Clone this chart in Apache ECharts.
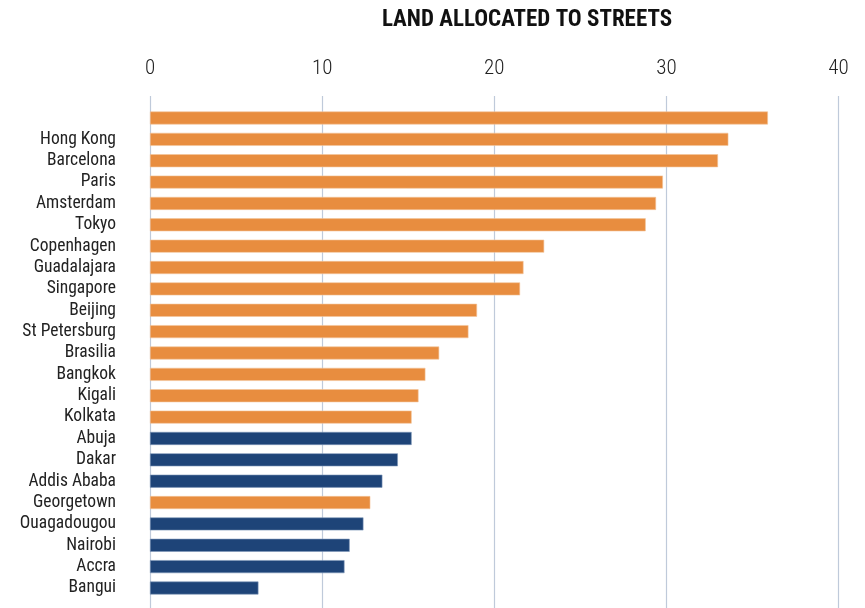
<!DOCTYPE html>
<html>
<head>
<meta charset="utf-8">
<script src="https://cdn.jsdelivr.net/npm/echarts@6/dist/echarts.min.js"></script>
<style>
  html, body { margin: 0; padding: 0; background: #ffffff; }
  #chart { width: 865px; height: 608px; }
</style>
</head>
<body>
<div id="chart"></div>
<script>
// ---- data ----
var title = 'LAND ALLOCATED TO STREETS';
var cities = ['', 'Hong Kong', 'Barcelona', 'Paris', 'Amsterdam', 'Tokyo', 'Copenhagen',
  'Guadalajara', 'Singapore', 'Beijing', 'St Petersburg', 'Brasilia', 'Bangkok', 'Kigali',
  'Kolkata', 'Abuja', 'Dakar', 'Addis Ababa', 'Georgetown', 'Ouagadougou', 'Nairobi',
  'Accra', 'Bangui'];
var landShare = [35.9, 33.6, 33.0, 29.8, 29.4, 28.8, 22.9, 21.7, 21.5, 19.0, 18.5, 16.8,
  16.0, 15.6, 15.2, 15.2, 14.4, 13.5, 12.8, 12.4, 11.6, 11.3, 6.3];
var group = ['A', 'A', 'A', 'A', 'A', 'A', 'A', 'A', 'A', 'A', 'A', 'A', 'A', 'A', 'A',
  'B', 'B', 'B', 'A', 'B', 'B', 'B', 'B'];
var xTicks = [0, 10, 20, 30, 40];

// ---- styles ----
var groupColor = { A: '#E88D3F', B: '#1E4478' };
var groupBorder = { A: '#F3C49A', B: '#7E97B8' };
var FONT = '"Roboto Condensed", "DejaVu Sans Condensed", "Liberation Sans Narrow", sans-serif';

var chart = echarts.init(document.getElementById('chart'), null, { renderer: 'canvas' });

var barData = landShare.map(function (v, i) {
  return {
    value: v,
    itemStyle: { color: groupColor[group[i]], borderColor: groupBorder[group[i]], borderWidth: 0.6 }
  };
});

chart.setOption({
  animation: false,
  backgroundColor: '#ffffff',
  title: {
    text: title,
    left: 527, top: 9, padding: 0,
    textAlign: 'center',
    textStyle: { fontFamily: FONT, fontWeight: 'bold', fontSize: 23, color: '#111111' }
  },
  grid: [
    { left: 150, right: 26.5, top: 96, bottom: 0 },
    { left: 150, right: 26.5, top: 107.3, bottom: 9.3 }
  ],
  xAxis: [
    {
      gridIndex: 0, type: 'value', position: 'top',
      min: xTicks[0], max: xTicks[xTicks.length - 1], interval: 10,
      axisLine: { show: false }, axisTick: { show: false },
      axisLabel: { margin: 17, fontFamily: FONT, fontWeight: 300, fontSize: 21, color: '#222222' },
      splitLine: { show: true, lineStyle: { color: '#BFCADA', width: 1.2 } }
    },
    {
      gridIndex: 1, type: 'value', min: 0, max: 40, show: false
    }
  ],
  yAxis: [
    { gridIndex: 0, type: 'value', min: 0, max: 1, show: false },
    {
      gridIndex: 1, type: 'category', data: cities, inverse: true,
      axisLine: { show: false }, axisTick: { show: false },
      axisLabel: { interval: 0, margin: 34, fontFamily: FONT, fontSize: 17.5, color: '#222222',
        padding: [0, 0, 3, 0] },
      splitLine: { show: false }
    }
  ],
  series: [
    {
      type: 'bar', xAxisIndex: 1, yAxisIndex: 1,
      data: barData, barWidth: 13
    }
  ]
});
</script>
</body>
</html>
